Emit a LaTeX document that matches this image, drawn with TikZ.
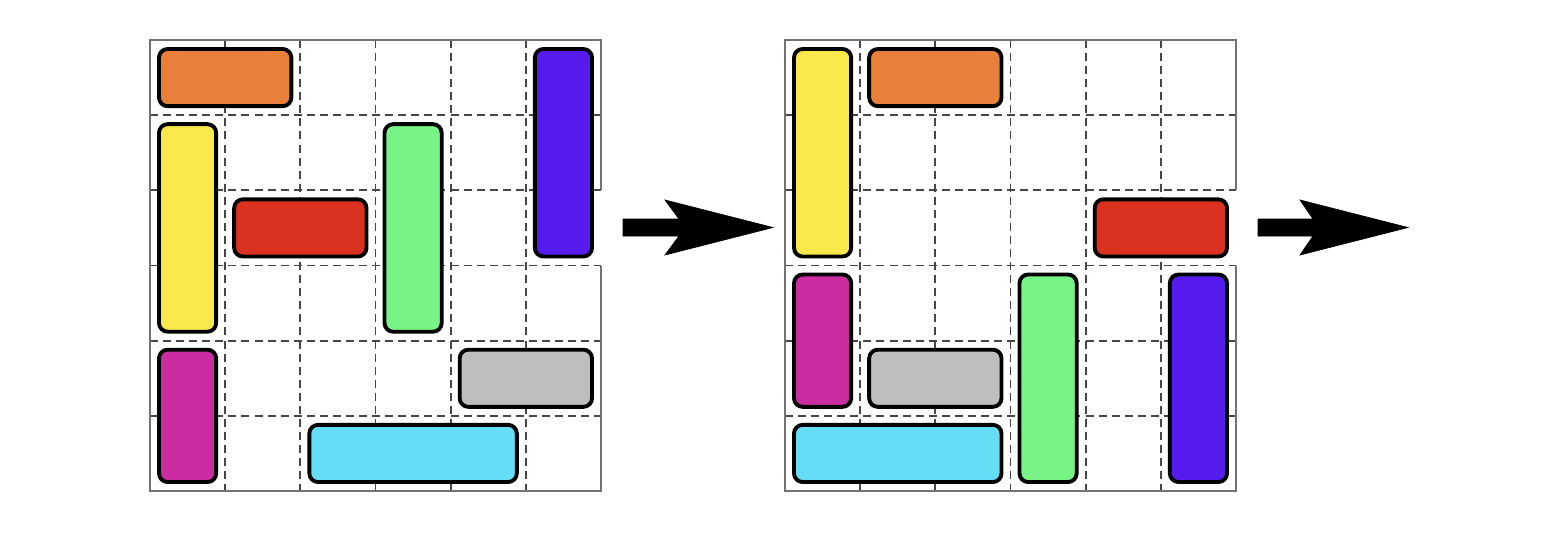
\documentclass[tikz,border=0pt]{standalone}
\usepackage{xcolor}
\usepackage{tikz}

\definecolor{carorange}{RGB}{233,128,58}
\definecolor{caryellow}{RGB}{248,232,76}
\definecolor{carred}{RGB}{219,49,33}
\definecolor{cargreen}{RGB}{119,244,133}
\definecolor{carviolet}{RGB}{86,28,238}
\definecolor{cargrey}{RGB}{190,190,190}
\definecolor{carmagenta}{RGB}{203,44,160}
\definecolor{carcyan}{RGB}{102,221,246}
\definecolor{gridgrey}{RGB}{70,70,70}

% board: #1 = left edge of the board
\newcommand{\puzboard}[1]{%
\foreach \i in {1,...,5} {
  \draw [celldash] ({#1+\i*75.17},40) -- ({#1+\i*75.17},491) ;
  \draw [celldash] (#1,{40+\i*75.17}) -- ({#1+451},{40+\i*75.17}) ;
}
% frame, open at the exit of the third row
\draw [frame] ({#1+451},190.3) -- ({#1+451},40) -- (#1,40) -- (#1,491) -- ({#1+451},491) -- ({#1+451},265.5) ;
}

% car: board, column, row, width, height, colour
\newcommand{\puzcar}[6]{%
\draw [car, fill=#6] ({#1+#2*75.17+9},{40+#3*75.17+9}) rectangle ({#1+(#2+#4)*75.17-9},{40+(#3+#5)*75.17-9}) ;
}

\begin{document}
\begin{tikzpicture}[x=0.75pt,y=0.75pt,yscale=-1,xscale=1,
  celldash/.style={draw=gridgrey, line width=1.4pt, dash pattern={on 6pt off 3.8pt}},
  frame/.style={draw=gray!90!black, line width=1.8pt},
  car/.style={draw=black, line width=2.9pt, rounded corners=6.5pt},
  bigarrow/.style={fill=black, draw=black, line width=0.5pt, line join=miter}]
\useasboundingbox (0,0) rectangle (1550,536);

%Left board
\puzboard{150}
\puzcar{150}{0}{0}{2}{1}{carorange}
\puzcar{150}{5}{0}{1}{3}{carviolet}
\puzcar{150}{0}{1}{1}{3}{caryellow}
\puzcar{150}{1}{2}{2}{1}{carred}
\puzcar{150}{3}{1}{1}{3}{cargreen}
\puzcar{150}{4}{4}{2}{1}{cargrey}
\puzcar{150}{0}{4}{1}{2}{carmagenta}
\puzcar{150}{2}{5}{3}{1}{carcyan}

%Right board
\puzboard{785}
\puzcar{785}{0}{0}{1}{3}{caryellow}
\puzcar{785}{1}{0}{2}{1}{carorange}
\puzcar{785}{4}{2}{2}{1}{carred}
\puzcar{785}{0}{3}{1}{2}{carmagenta}
\puzcar{785}{1}{4}{2}{1}{cargrey}
\puzcar{785}{0}{5}{3}{1}{carcyan}
\puzcar{785}{3}{3}{1}{3}{cargreen}
\puzcar{785}{5}{3}{1}{3}{carviolet}

%Arrows
\coordinate (arrA) at (623,227.5);
\coordinate (arrB) at (1258,227.5);
\draw [bigarrow] (arrA) ++(0,-8.5) -- ++(56,0) -- (665,200) -- (773,227.5) -- (665,255) -- (679,236) -- ++(-56,0) -- cycle ;
\draw [bigarrow] (arrB) ++(0,-8.5) -- ++(55,0) -- (1300,200) -- (1408,227.5) -- (1300,255) -- (1313,236) -- ++(-55,0) -- cycle ;

\end{tikzpicture}
\end{document}
